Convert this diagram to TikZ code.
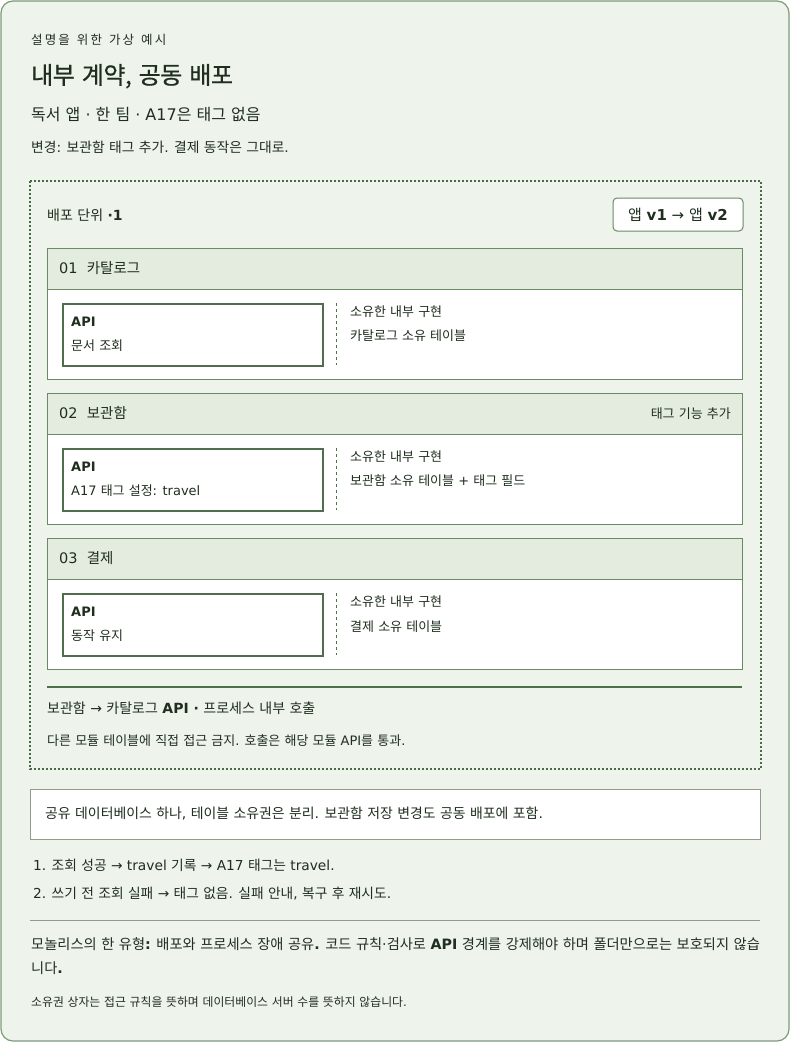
\documentclass[tikz,border=0pt]{standalone}
\usepackage{fontspec}
\setmainfont{Noto Sans CJK KR}[WordSpace=1.42]
\newfontfamily\dvfam{DejaVu Sans}
\newcommand\dv[1]{{\dvfam #1}}
\newcommand\fsz[1]{\fontsize{#1}{#1}\selectfont}
\definecolor{ink}{HTML}{1F2E1F}
\definecolor{cardfill}{HTML}{EEF3EC}
\definecolor{cardline}{HTML}{7E9A7B}
\definecolor{hdr}{HTML}{E4ECE0}
\definecolor{modb}{HTML}{6A8A66}
\definecolor{apib}{HTML}{4F6E4B}
\definecolor{dotc}{HTML}{4A6A46}
\definecolor{grayb}{HTML}{8E9E8B}
\begin{document}
\begin{tikzpicture}[x=1pt,y=-1pt,
  t/.style={anchor=base west,inner sep=0,text=ink,font=\fsz{#1},yshift={-0.37*#1}},
  tr/.style={anchor=base east,inner sep=0,text=ink,font=\fsz{#1},yshift={-0.37*#1}},
  modbox/.style={draw=modb,line width=1.2,fill=white,minimum width=695,minimum height=131,anchor=north west,inner sep=0},
  hdrbox/.style={draw=modb,line width=1.2,fill=hdr,minimum width=695,minimum height=41,anchor=north west,inner sep=0},
  apibox/.style={draw=apib,line width=2,fill=white,minimum width=260,minimum height=62,anchor=north west,inner sep=0},
  sep/.style={draw=apib,dashed,line width=0.8}]
\useasboundingbox (0,0) rectangle (790,1043);
\fill[white] (0,0) rectangle (790,1043);
\draw[cardline,fill=cardfill,line width=1.2,rounded corners=12] (1,1) rectangle (789,1041);

\node[t=12.5] (eyebrow) at (31,40) {\addfontfeature{LetterSpace=17}설명을 위한 가상 예시};
\node[t=24] (title) at (31,75) {\addfontfeature{LetterSpace=-2,FakeBold=0.6}내부 계약, 공동 배포};
\node[t=16] (sub) at (31,115) {독서 앱 \dv{·} 한 팀 \dv{· A17}은 태그 없음};
\node[t=13.8] (change) at (31,147) {변경\dv{:} 보관함 태그 추가\dv{.} 결제 동작은 그대로\dv{.}};

\draw[dotc,dotted,line width=2] (30,181) rectangle (761,769);
\node[t=14] (unit) at (47,215) {배포 단위 \dv{\textbf{·1}}};
\node[draw=modb,fill=white,rounded corners=4,line width=1,minimum width=130,minimum height=33,inner sep=0,text=ink,font=\fsz{15}] (badge) at (678,214.5) {앱 \dv{\textbf{v1} → }앱 \dv{\textbf{v2}}};

% module 1
\node[modbox] (m1) at (47,248) {};
\node[hdrbox] (m1h) at (47,248) {};
\node[t=14.5] (m1t) at (59,268.5) {\dv{01}\ \ 카탈로그};
\node[apibox] (a1) at (62,303) {};
\node[t=13] (a1l) at (71,322) {\dv{\textbf{API}}};
\node[t=13] (a1d) at (71,346) {문서 조회};
\draw[sep] (336,303) -- (336,365);
\node[t=13] (o1a) at (350,312) {소유한 내부 구현};
\node[t=13] (o1b) at (350,336) {카탈로그 소유 테이블};

% module 2
\node[modbox] (m2) at (47,393) {};
\node[hdrbox] (m2h) at (47,393) {};
\node[t=14.5] (m2t) at (59,413.5) {\dv{02}\ \ 보관함};
\node[tr=13] (m2n) at (731,413.5) {태그 기능 추가};
\node[apibox] (a2) at (62,448) {};
\node[t=13] (a2l) at (71,467) {\dv{\textbf{API}}};
\node[t=13] (a2d) at (71,491) {\dv{A17} 태그 설정\dv{: travel}};
\draw[sep] (336,448) -- (336,510);
\node[t=13] (o2a) at (350,457) {소유한 내부 구현};
\node[t=13] (o2b) at (350,481) {보관함 소유 테이블 \dv{+} 태그 필드};

% module 3
\node[modbox] (m3) at (47,538) {};
\node[hdrbox] (m3h) at (47,538) {};
\node[t=14.5] (m3t) at (59,558.5) {\dv{03}\ \ 결제};
\node[apibox] (a3) at (62,593) {};
\node[t=13] (a3l) at (71,612) {\dv{\textbf{API}}};
\node[t=13] (a3d) at (71,636) {동작 유지};
\draw[sep] (336,593) -- (336,655);
\node[t=13] (o3a) at (350,602) {소유한 내부 구현};
\node[t=13] (o3b) at (350,627) {결제 소유 테이블};

\draw[apib,line width=2] (47,687) -- (742,687);
\node[t=14] (call) at (47,708) {보관함 \dv{→} 카탈로그 \dv{\textbf{API ·}} 프로세스 내부 호출};
\node[t=13] (rule) at (47,741) {다른 모듈 테이블에 직접 접근 금지\dv{.} 호출은 해당 모듈 \dv{API}를 통과\dv{.}};

\node[draw=grayb,fill=white,line width=1,minimum width=730,minimum height=50,anchor=north west,inner sep=0] (db) at (30,789) {};
\node[t=13.9] (dbt) at (45,813) {공유 데이터베이스 하나\dv{,} 테이블 소유권은 분리\dv{.} 보관함 저장 변경도 공동 배포에 포함\dv{.}};

\node[t=13.75] (l1) at (33,865) {\dv{1.} 조회 성공 \dv{→ travel} 기록 \dv{→ A17} 태그는 \dv{travel.}};
\node[t=13.75] (l2) at (33,893) {\dv{2.} 쓰기 전 조회 실패 \dv{→} 태그 없음\dv{.} 실패 안내\dv{,} 복구 후 재시도\dv{.}};
\draw[grayb,line width=1] (30,920) -- (760,920);

\node[t=14.25] (p1) at (31,944) {모놀리스의 한 유형\dv{\textbf{:}} 배포와 프로세스 장애 공유\dv{\textbf{.}} 코드 규칙\dv{·}검사로 \dv{\textbf{API}} 경계를 강제해야 하며 폴더만으로는 보호되지 않습};
\node[t=14.25] (p2) at (31,968) {니다\dv{\textbf{.}}};
\node[t=11.85] (foot) at (31,1002) {소유권 상자는 접근 규칙을 뜻하며 데이터베이스 서버 수를 뜻하지 않습니다\dv{.}};
\end{tikzpicture}
\end{document}
